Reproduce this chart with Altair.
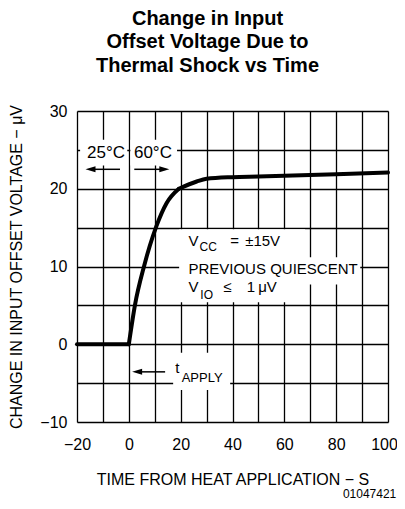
import altair as alt
import pandas as pd

# ---- curve data ----
seg = ["a", "a",
       "b", "b", "b", "b", "b", "b",
       "c", "c", "c", "c", "c", "c", "c", "c"]
time_s = [-20, 0,
          0, 2.4, 5.9, 10.5, 14.6, 19.3,
          19.3, 26.2, 30, 40, 50, 60, 80, 100]
dvio = [0, 0,
        0, 5.1, 10.07, 15.06, 18.17, 20.0,
        20.0, 20.93, 21.28, 21.49, 21.57, 21.66, 21.87, 22.08]

x_grid = list(range(-20, 101, 10))
y_grid = list(range(-10, 31, 5))

# white boxes behind annotation text (data units)
box_x = [-18.8, 0.6, 17.1, 19.5, 19.5]
box_x2 = [-0.6, 18.6, 39.1, 68.0, 89.3]
box_y = [26.3, 26.3, -1.1, 14.8, 11.2]
box_y2 = [23.0, 23.0, -5.9, 5.4, 7.7]

# annotation texts
ann_text = ["25°C", "60°C", "t", "APPLY", "V", "CC", "=", "±15V",
            "PREVIOUS QUIESCENT", "V", "IO", "≤", "1", "μV", "01047421"]
ann_x = [-8.8, 9.3, 17.9, 20.4, 23.0, 27.3, 39.1, 44.9,
         23.0, 23.0, 27.6, 36.4, 45.5, 49.9, 103.2]
ann_y = [24.6, 24.6, -3.75, -4.8, 12.63, 12.0, 12.63, 12.63,
         9.02, 6.68, 5.83, 6.68, 6.68, 6.68, -19.8]
ann_size = [17, 17, 15, 13, 15, 12, 15, 15, 15, 15, 12, 15, 15, 15, 12]
ann_align = ["center", "center", "left", "left", "left", "left", "left", "left",
             "left", "left", "left", "left", "left", "left", "right"]
ann_base = ["middle", "middle", "alphabetic", "alphabetic", "alphabetic",
            "alphabetic", "alphabetic", "alphabetic", "alphabetic",
            "alphabetic", "alphabetic", "alphabetic", "alphabetic",
            "alphabetic", "alphabetic"]

# arrows: shafts and heads
arr_x = [-3.4, 2.1, 14.0]
arr_x2 = [-15.0, 14.0, 3.0]
arr_y = [22.5, 22.5, -3.55]
head_x = [-14.8, 13.7, 3.2]
head_y = [22.5, 22.5, -3.55]
head_dir = ["left", "right", "left"]

FONT = "Liberation Sans"

curve = pd.DataFrame({"x": time_s, "y": dvio, "seg": seg})
boxes = pd.DataFrame({"x": box_x, "x2": box_x2, "y": box_y, "y2": box_y2})
ann = pd.DataFrame({"x": ann_x, "y": ann_y, "t": ann_text, "s": ann_size,
                    "a": ann_align, "b": ann_base})
shafts = pd.DataFrame({"x": arr_x, "x2": arr_x2, "y": arr_y})
paths = {"left": "M-1,0L1,-0.6L1,0.6Z", "right": "M1,0L-1,-0.6L-1,0.6Z"}
heads = pd.DataFrame({"x": head_x, "y": head_y,
                      "p": [paths[d] for d in head_dir]})

xs = alt.Scale(domain=[-20, 100], nice=False, zero=False)
ys = alt.Scale(domain=[-10, 30], nice=False, zero=False)

xax = alt.Axis(values=x_grid,
               labelExpr="datum.value % 20 == 0 ? format(datum.value, 'd') : ''",
               labelOffset={"expr": "datum.value == 100 ? -4 : 0"},
               grid=True, gridColor="black", gridWidth=1.3, gridOpacity=1,
               ticks=False, domain=False, labelFlush=False, labelOverlap=False,
               labelFont=FONT, labelFontSize=16, labelColor="black",
               labelPadding=14,
               title="TIME FROM HEAT APPLICATION − S", titleFont=FONT,
               titleFontSize=16, titleFontWeight="normal", titleColor="black",
               titlePadding=19)
yax = alt.Axis(values=y_grid,
               labelExpr="datum.value % 10 == 0 ? format(datum.value, 'd') : ''",
               grid=True, gridColor="black", gridWidth=1.3, gridOpacity=1,
               ticks=False, domain=False, labelFlush=False, labelOverlap=False,
               labelFont=FONT, labelFontSize=16, labelColor="black",
               labelPadding=10,
               title="CHANGE IN INPUT OFFSET VOLTAGE − μV", titleFont=FONT,
               titleFontSize=16, titleFontWeight="normal", titleColor="black",
               titlePadding=15)

X = alt.X("x:Q", scale=xs, axis=xax)
Y = alt.Y("y:Q", scale=ys, axis=yax)

rects = alt.Chart(boxes).mark_rect(color="white").encode(
    x=X, x2="x2:Q", y=Y, y2="y2:Q")

line = alt.Chart(curve).mark_line(
    color="black", strokeWidth=4, interpolate="monotone", strokeCap="round",
    strokeJoin="round").encode(x=X, y=Y, detail="seg:N")

shaft = alt.Chart(shafts).mark_rule(color="black", strokeWidth=1.5).encode(
    x=X, x2="x2:Q", y=Y)

head = alt.Chart(heads).mark_point(filled=True, color="black", opacity=1,
                                   size=100, strokeWidth=0).encode(
    x=X, y=Y, shape=alt.Shape("p:N", scale=None, legend=None))

texts = []
for (al, bl), sub in ann.groupby(["a", "b"]):
    texts.append(
        alt.Chart(sub).mark_text(font=FONT, color="black", align=al,
                                 baseline=bl).encode(
            x=X, y=Y, text="t:N", size=alt.Size("s:Q", scale=None, legend=None))
    )

chart = alt.layer(rects, line, shaft, head, *texts).properties(
    width=311, height=311,
    title=alt.TitleParams(
        text=["Change in Input", "Offset Voltage Due to", "Thermal Shock vs Time"],
        font=FONT, fontSize=20, fontWeight="bold", color="black",
        lineHeight=23.7, anchor="middle", baseline="bottom", offset=7, dx=-25),
    padding={"left": 69, "top": 103, "right": 9, "bottom": 79},
    autosize=alt.AutoSizeParams(type="none"),
).configure_view(stroke="black", strokeWidth=1.5).configure(background="white")

chart.save("out.html", embed_options={"renderer": "svg", "actions": False})
